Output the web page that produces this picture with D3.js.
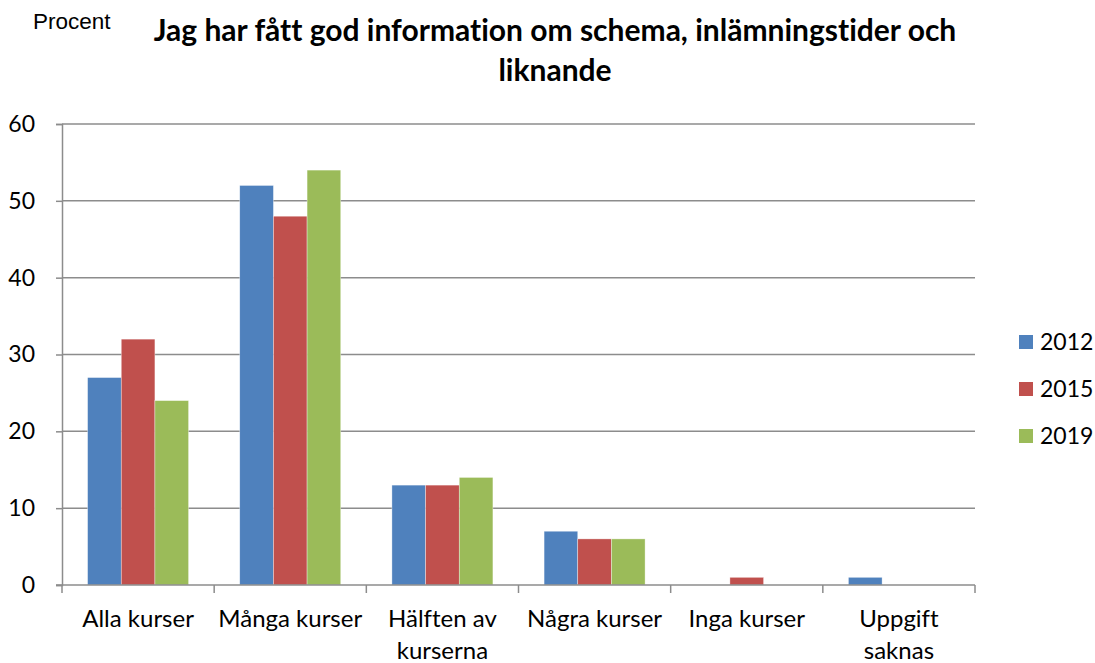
<!DOCTYPE html>
<html>
<head>
<meta charset="utf-8">
<script src="https://cdn.jsdelivr.net/npm/d3@7"></script>
<style>
  body { margin: 0; background: #fff; }
  text { font-variant-ligatures: none; }
</style>
</head>
<body>
<svg id="chart" width="1095" height="663"></svg>
<script>
let categories = [["Alla kurser"], ["Många kurser"], ["Hälften av", "kurserna"], ["Några kurser"], ["Inga kurser"], ["Uppgift", "saknas"]];
let years = ["2012", "2015", "2019"];
let v2012 = [27, 52, 13, 7, 0, 1];
let v2015 = [32, 48, 13, 6, 1, 0];
let v2019 = [24, 54, 14, 6, 0, 0];
let yTicks = [0, 10, 20, 30, 40, 50, 60];
let colors = ["#4F81BD", "#C0504D", "#9BBB59"];

let series = [v2012, v2015, v2019];
let font = "Lato, 'Open Sans', sans-serif";
let gridColor = "#8c8c8c";

let svg = d3.select("#chart");
let pLeft = 62, pRight = 975, pTop = 124, pBottom = 585;

let x = d3.scaleBand()
	.domain(d3.range(categories.length))
	.range([pLeft, pRight])
	.paddingInner(0)
	.paddingOuter(0);

let xs = d3.scaleBand()
	.domain(d3.range(years.length))
	.range([0, x.bandwidth()])
	.paddingOuter(0.76)
	.paddingInner(0);

let y = d3.scaleLinear().domain([0, 60]).range([pBottom, pTop]);

// gridlines
svg.append("g")
	.selectAll("line")
	.data(yTicks.slice(1))
	.enter().append("line")
	.attr("x1", pLeft).attr("x2", pRight)
	.attr("y1", d => y(d)).attr("y2", d => y(d))
	.attr("stroke", gridColor)
	.attr("stroke-width", 1.5)

// bars
let groups = svg.append("g")
	.selectAll("g")
	.data(series)
	.enter().append("g")
	.attr("fill", (d, i) => colors[i])

groups.selectAll("rect")
	.data((d, si) => d.map((v, ci) => ({v: v, ci: ci, si: si})))
	.enter().append("rect")
	.attr("x", d => x(d.ci) + xs(d.si))
	.attr("width", xs.bandwidth())
	.attr("y", d => y(d.v))
	.attr("height", d => y(0) - y(d.v))
	.attr("stroke", "rgba(255,255,255,0.6)")
	.attr("stroke-width", 0.6)

// y axis
let yAxis = svg.append("g")
	.attr("transform", "translate(" + pLeft + ",0)")
	.call(d3.axisLeft(y).tickValues(yTicks).tickSize(6).tickPadding(21))
yAxis.select(".domain").attr("stroke", gridColor).attr("stroke-width", 1.5)
yAxis.selectAll(".tick line").attr("stroke", gridColor).attr("stroke-width", 1.5)
yAxis.selectAll("text")
	.attr("font-family", font)
	.attr("font-size", "23px")
	.attr("fill", "#000")

// x axis
let xAxis = svg.append("g")
	.attr("transform", "translate(0," + pBottom + ")")
xAxis.append("line")
	.attr("x1", pLeft - 6).attr("x2", pRight)
	.attr("stroke", gridColor).attr("stroke-width", 1.5)
xAxis.selectAll(".tk")
	.data(d3.range(categories.length + 1))
	.enter().append("line")
	.attr("x1", d => pLeft + d * x.step()).attr("x2", d => pLeft + d * x.step())
	.attr("y1", 0).attr("y2", 8)
	.attr("stroke", gridColor).attr("stroke-width", 1.5)

let labels = xAxis.selectAll(".lbl")
	.data(categories)
	.enter().append("text")
	.attr("text-anchor", "middle")
	.attr("font-family", font)
	.attr("font-size", "24px")
	.attr("fill", "#000")
	.attr("x", (d, i) => x(i) + x.bandwidth() / 2)
labels.selectAll("tspan")
	.data(d => d)
	.enter().append("tspan")
	.attr("x", function() { return d3.select(this.parentNode).attr("x") })
	.attr("y", (d, i) => 42 + i * 32)
	.text(d => d)

// title
svg.append("text")
	.attr("x", 33).attr("y", 29)
	.attr("font-family", "'Liberation Sans', Arial, sans-serif")
	.attr("font-size", "22.5px")
	.text("Procent")

let title = svg.append("text")
	.attr("text-anchor", "middle")
	.attr("font-family", font)
	.attr("font-size", "30px")
	.attr("font-weight", "bold")
title.append("tspan").attr("x", 555).attr("y", 41).text("Jag har fått god information om schema, inlämningstider och")
title.append("tspan").attr("x", 555).attr("y", 81).text("liknande")

// legend
let legend = svg.append("g")
	.selectAll("g")
	.data(years)
	.enter().append("g")
	.attr("transform", (d, i) => "translate(1019," + (335 + i * 47) + ")")
legend.append("rect")
	.attr("width", 14).attr("height", 14)
	.attr("fill", (d, i) => colors[i])
legend.append("text")
	.attr("x", 21).attr("y", 15)
	.attr("font-family", font)
	.attr("font-size", "23px")
	.text(d => d)
</script>
</body>
</html>
